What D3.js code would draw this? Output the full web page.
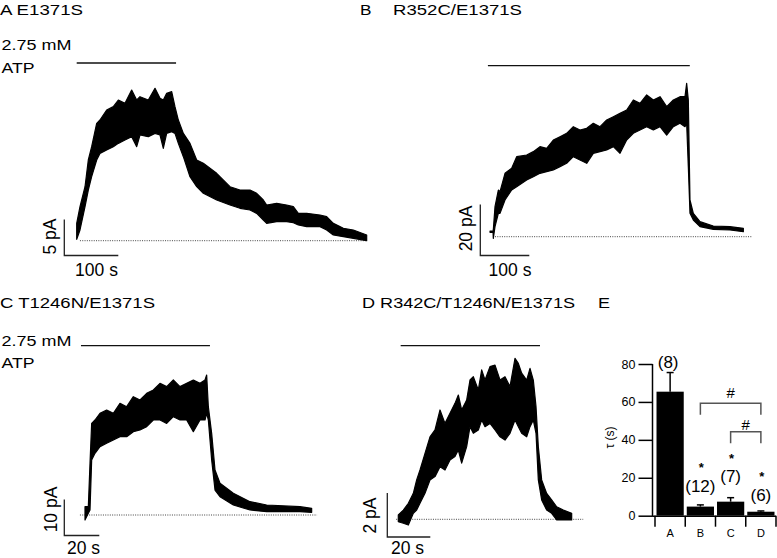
<!DOCTYPE html>
<html>
<head>
<meta charset="utf-8">
<script src="https://cdn.jsdelivr.net/npm/d3@7"></script>
<style>
  html, body { margin: 0; padding: 0; background: #fff; }
  svg { display: block; font-family: "Liberation Sans", Arial, Helvetica, sans-serif; }
</style>
</head>
<body>
<svg id="fig" width="777" height="558"></svg>
<script>
// ---------------- DATA ----------------
// Panel A: E1371S  (time in s, current envelope in pA)
const traceA_t  = [0, 6.1, 15.4, 21.5, 27.7, 37.0, 43.1, 55.5, 67.8, 77.1, 89.4, 101.8, 111.1, 117.2, 132.6, 145.0, 154.3, 160.4, 166.6, 175.9, 182.0, 188.2, 197.5, 209.8, 222.2, 234.5, 259.2, 283.9, 302.4, 320.9, 333.3, 345.6, 351.8, 370.3, 388.8, 401.2, 410.4, 425.9, 450.6, 462.9, 475.2, 493.8, 512.3, 537.0];
const traceA_hi = [2.41, 4.73, 7.50, 11.21, 13.06, 16.30, 16.76, 18.15, 18.62, 19.54, 19.08, 20.93, 19.54, 20.00, 19.54, 21.16, 19.77, 19.54, 20.47, 20.70, 18.62, 16.76, 14.91, 13.52, 11.21, 10.75, 9.36, 7.50, 7.04, 7.04, 6.58, 5.65, 4.96, 5.19, 4.96, 4.73, 3.80, 3.80, 3.57, 3.34, 2.41, 1.72, 1.49, 0.79];
const traceA_lo = [0.19, 1.49, 4.73, 7.04, 8.89, 11.21, 12.13, 12.60, 13.06, 13.52, 13.99, 14.45, 13.06, 14.68, 14.45, 14.91, 14.68, 12.83, 14.91, 15.14, 14.91, 13.52, 11.67, 8.89, 7.50, 6.58, 5.65, 4.96, 4.50, 4.26, 3.80, 2.88, 2.41, 2.64, 2.64, 2.50, 2.18, 1.95, 1.95, 1.49, 0.79, 0.56, 0.33, 0.0];
const atpA = [0, 184];
const baseA = [6, 538];

// Panel B: R352C/E1371S
const traceB_t  = [-6.7, -0.5, 0, 3.5, 10.3, 13.7, 23.9, 37.5, 47.7, 68.1, 81.7, 95.3, 108.9, 122.5, 136.1, 149.7, 163.3, 176.9, 190.6, 204.1, 217.8, 231.4, 245.0, 258.6, 272.2, 285.8, 299.4, 313.0, 326.6, 340.2, 353.8, 367.4, 381.0, 391.2, 394.6, 398.0, 401.4, 408.2, 421.8, 449.0, 483.1, 510.3];
const traceB_hi = [2.2, 2.2, 2.63, 11.78, 18.31, 17.66, 24.85, 26.81, 31.38, 32.04, 33.35, 35.31, 34.65, 37.92, 39.23, 40.54, 43.15, 41.84, 42.50, 44.46, 43.15, 45.76, 47.07, 48.38, 49.69, 53.61, 52.30, 55.57, 53.61, 54.91, 50.99, 53.61, 54.91, 54.91, 60.14, 53.61, 14.39, 9.16, 5.89, 4.20, 3.93, 3.28];
const traceB_lo = [1.7, 1.7, -0.64, 3.93, 9.16, 9.16, 14.39, 18.31, 19.62, 22.24, 23.54, 24.85, 25.50, 26.16, 27.46, 28.77, 31.38, 30.08, 28.77, 32.69, 33.35, 34.00, 35.31, 32.69, 37.92, 40.54, 41.84, 43.15, 41.84, 43.15, 39.88, 43.15, 44.46, 43.15, 44.46, 27.46, 9.16, 6.55, 3.93, 2.89, 2.63, 1.97];
const atpB = [-11, 401];
const baseB = [3.5, 527];

// Panel C: T1246N/E1371S
const traceC_t  = [0, 1.9, 2.86, 3.81, 5.71, 8.57, 12.38, 16.19, 20.0, 23.81, 27.62, 31.43, 35.24, 39.05, 42.86, 46.67, 50.48, 54.29, 58.10, 61.90, 65.71, 68.57, 69.52, 70.48, 72.38, 74.29, 77.14, 84.76, 94.29, 103.81, 122.86, 129.52];
const traceC_hi = [2.31, 2.31, 14.35, 25.46, 26.39, 28.24, 29.17, 28.24, 31.02, 30.09, 32.87, 31.94, 33.80, 34.72, 36.57, 35.65, 37.50, 35.65, 36.57, 37.50, 36.57, 37.50, 38.89, 30.09, 22.69, 12.50, 8.80, 6.02, 3.70, 2.78, 2.31, 1.85];
const traceC_lo = [-1.39, 0.46, 1.39, 15.28, 17.13, 18.98, 19.91, 20.83, 21.76, 21.76, 23.15, 23.61, 24.54, 26.39, 26.39, 25.46, 27.31, 26.39, 26.39, 23.15, 26.39, 26.39, 28.24, 26.39, 15.28, 6.94, 5.09, 2.78, 1.39, 0.93, 0.93, 0.74];
const atpC = [-2.3, 71.4];
const baseC = [-2.9, 132.6];

// Panel D: R342C/T1246N/E1371S
const traceD_t  = [0, 2.34, 4.67, 6.99, 8.54, 10.09, 12.42, 14.74, 17.07, 19.40, 21.72, 24.05, 26.37, 27.92, 29.47, 31.80, 33.35, 34.90, 37.22, 38.78, 40.33, 42.65, 44.98, 47.30, 49.63, 51.95, 54.28, 55.83, 57.38, 59.71, 61.26, 62.80, 64.05, 65.13, 66.68, 69.01, 71.33, 73.66, 76.76, 80.64];
const traceD_hi = [0.20, 0.42, 0.73, 1.18, 1.79, 2.24, 3.00, 3.75, 4.06, 4.97, 4.36, 4.82, 5.27, 5.65, 4.97, 5.42, 6.33, 6.48, 5.88, 6.79, 6.33, 6.94, 7.01, 6.33, 6.48, 6.03, 7.32, 7.09, 6.64, 6.33, 6.86, 6.33, 5.12, 3.30, 1.79, 1.18, 0.88, 0.57, 0.42, 0.27];
const traceD_lo = [-0.11, -0.18, -0.26, 0.27, 0.42, 0.73, 1.18, 1.79, 1.94, 2.39, 2.24, 2.70, 2.85, 3.15, 2.55, 3.30, 4.21, 3.91, 4.06, 4.51, 4.21, 4.36, 4.06, 3.75, 3.60, 3.91, 4.51, 4.21, 3.91, 3.75, 4.21, 4.51, 3.91, 1.79, 0.88, 0.42, 0.27, -0.03, -0.03, -0.03];
const atpD = [1.1, 65.9];
const baseD = [-1, 86];

// Panel E: deactivation time constants
const groups   = ["A", "B", "C", "D"];
const tauMean  = [65.4, 4.8, 7.4, 2.1];
const tauSEM   = [10.1, 0.9, 2.1, 0.4];
const nCells   = ["(8)", "(12)", "(7)", "(6)"];
const starred  = [false, true, true, true];
const yTicks   = [0, 20, 40, 60, 80];
const brackets = [["B", "D"], ["C", "D"]];

// ---------------- DRAWING ----------------
const svg = d3.select("#fig");
const ink = "#000";

function panel(cfg) {
  const g = svg.append("g");
  const x = d3.scaleLinear().domain([0, cfg.sBar]).range([cfg.x0, cfg.x0 + cfg.pxS]);
  const y = d3.scaleLinear().domain([0, cfg.iBar]).range([cfg.y0, cfg.y0 - cfg.pxI]);
  const pts = cfg.t.map((t, i) => ({ t, hi: cfg.hi[i], lo: cfg.lo[i] }));

  // dotted baseline
  g.append("line")
    .attr("x1", x(cfg.base[0])).attr("x2", x(cfg.base[1]))
    .attr("y1", y(0)).attr("y2", y(0))
    .attr("stroke", "#444").attr("stroke-width", 1).attr("stroke-dasharray", "1,1.3");

  // ATP application bar
  g.append("line")
    .attr("x1", x(cfg.atp[0])).attr("x2", x(cfg.atp[1]))
    .attr("y1", cfg.atpY).attr("y2", cfg.atpY)
    .attr("stroke", "#111").attr("stroke-width", 1.3);

  // current trace envelope
  const area = d3.area().x(d => x(d.t)).y0(d => y(d.lo)).y1(d => y(d.hi)).curve(d3.curveLinear);
  g.append("path").datum(pts).attr("d", area)
    .attr("fill", ink).attr("stroke", ink).attr("stroke-width", 1.2).attr("stroke-linejoin", "round");

  // scale bars
  const sbx = cfg.sb[0], sby = cfg.sb[1];
  const hLen = x(cfg.sBar) - x(0), vLen = y(0) - y(cfg.iBar);
  g.append("path")
    .attr("d", `M${sbx},${sby - vLen}V${sby}H${sbx + hLen}`)
    .attr("fill", "none").attr("stroke", "#222").attr("stroke-width", 1.3);
  g.append("text").attr("x", cfg.sLbl[0]).attr("y", cfg.sLbl[1])
    .attr("text-anchor", "middle").attr("font-size", 17.5).text(cfg.sText);
  g.append("text").attr("transform", `translate(${cfg.iLbl[0]},${cfg.iLbl[1]}) rotate(-90)`)
    .attr("text-anchor", "middle").attr("font-size", 17.5).text(cfg.iText);
}

panel({ t: traceA_t, hi: traceA_hi, lo: traceA_lo, atp: atpA, base: baseA,
  x0: 76.7, y0: 240.7, sBar: 100, pxS: 54, iBar: 5, pxI: 36, atpY: 63,
  sb: [64.3, 255.5], sLbl: [96.5, 276], iLbl: [55.5, 236.5], sText: "100 s", iText: "5 pA" });
panel({ t: traceB_t, hi: traceB_hi, lo: traceB_lo, atp: atpB, base: baseB,
  x0: 493.3, y0: 236.7, sBar: 100, pxS: 49, iBar: 20, pxI: 51, atpY: 65.7,
  sb: [480.3, 255.5], sLbl: [510, 276], iLbl: [471.5, 228.5], sText: "100 s", iText: "20 pA" });
panel({ t: traceC_t, hi: traceC_hi, lo: traceC_lo, atp: atpC, base: baseC,
  x0: 85, y0: 515, sBar: 20, pxS: 35, iBar: 10, pxI: 36, atpY: 345.7,
  sb: [64.3, 535.5], sLbl: [83.5, 554], iLbl: [56.5, 509.5], sText: "20 s", iText: "10 pA" });
panel({ t: traceD_t, hi: traceD_hi, lo: traceD_lo, atp: atpD, base: baseD,
  x0: 398.3, y0: 519.3, sBar: 20, pxS: 43, iBar: 2, pxI: 44, atpY: 345.7,
  sb: [387.3, 537], sLbl: [407.5, 554], iLbl: [375.5, 515.5], sText: "20 s", iText: "2 pA" });

// titles
const titles = [
  { x: 0, y: 15, t: "A E1371S", w: 83 },
  { x: 360, y: 15, t: "B", w: 11.5 },
  { x: 393, y: 15, t: "R352C/E1371S", w: 129 },
  { x: 1.5, y: 50, t: "2.75 mM", w: 70 },
  { x: 1.5, y: 73, t: "ATP", w: 33 },
  { x: 0, y: 308, t: "C T1246N/E1371S", w: 155 },
  { x: 1.5, y: 345.5, t: "2.75 mM", w: 70 },
  { x: 1.5, y: 367.5, t: "ATP", w: 33 },
  { x: 362, y: 308, t: "D R342C/T1246N/E1371S", w: 213 },
  { x: 598, y: 308, t: "E", w: 12 }
];
svg.append("g").selectAll("text").data(titles).join("text")
  .attr("x", d => d.x).attr("y", d => d.y)
  .attr("font-size", 15.5)
  .attr("textLength", d => d.w).attr("lengthAdjust", "spacingAndGlyphs")
  .text(d => d.t);

// ---------------- Panel E bar chart ----------------
const gE = svg.append("g");
const yE = d3.scaleLinear().domain([0, 80]).range([515.7, 364]);
const xE = d3.scaleBand().domain(groups).range([655, 776]).paddingInner(0.1).paddingOuter(0.05);
const axisX0 = 652.5;

// bars
gE.selectAll("rect.bar").data(groups).join("rect")
  .attr("x", d => xE(d)).attr("width", xE.bandwidth())
  .attr("y", (d, i) => yE(tauMean[i])).attr("height", (d, i) => yE(0) - yE(tauMean[i]))
  .attr("fill", ink);

// error bars
groups.forEach((d, i) => {
  const cx = xE(d) + xE.bandwidth() / 2;
  gE.append("line").attr("x1", cx).attr("x2", cx)
    .attr("y1", yE(tauMean[i])).attr("y2", yE(tauMean[i] + tauSEM[i]))
    .attr("stroke", ink).attr("stroke-width", 1.5);
  gE.append("line").attr("x1", cx - 3.5).attr("x2", cx + 3.5)
    .attr("y1", yE(tauMean[i] + tauSEM[i])).attr("y2", yE(tauMean[i] + tauSEM[i]))
    .attr("stroke", ink).attr("stroke-width", 1.5);
});

// y axis
const yAxis = d3.axisLeft(yE).tickValues(yTicks).tickSize(14).tickPadding(3).tickFormat(d3.format("d"));
const gy = gE.append("g").attr("transform", `translate(${axisX0},0)`).call(yAxis);
gy.select(".domain").attr("d", `M0,${yE(80)}V${yE(0) + 1}`).attr("stroke-width", 1.5);
gy.selectAll(".tick line").attr("stroke-width", 1.5);
gy.selectAll(".tick text").attr("font-size", 12.5).attr("font-family", "Liberation Sans, Arial, sans-serif").attr("fill", ink);

// x axis: line along bottom, ticks at band boundaries
const step = xE.step();
const x0b = xE.range()[0];
gE.append("line").attr("x1", axisX0).attr("x2", x0b + 4 * step).attr("y1", yE(0) + 0.5).attr("y2", yE(0) + 0.5)
  .attr("stroke", ink).attr("stroke-width", 1.5);
gE.selectAll("line.xt").data(d3.range(5)).join("line")
  .attr("x1", i => x0b + i * step).attr("x2", i => x0b + i * step)
  .attr("y1", yE(0)).attr("y2", yE(0) + 11)
  .attr("stroke", ink).attr("stroke-width", 1.5);
gE.selectAll("text.xl").data(groups).join("text")
  .attr("x", d => xE(d) + xE.bandwidth() / 2).attr("y", 537)
  .attr("text-anchor", "middle").attr("font-size", 11).text(d => d);

// axis title
gE.append("text").attr("transform", `translate(614,437.5) rotate(-90)`)
  .attr("text-anchor", "middle").attr("font-size", 12).text("τ (s)");

// n labels and stars
const nPos = [367.5, 491.5, 482, 500.5];
const starPos = [0, 472, 463, 481];
groups.forEach((d, i) => {
  const cx = xE(d) + xE.bandwidth() / 2;
  gE.append("text").attr("x", cx - (i === 0 ? 2 : 0)).attr("y", nPos[i])
    .attr("text-anchor", "middle").attr("font-size", 17).text(nCells[i]);
  if (starred[i]) {
    gE.append("text").attr("x", cx + 1).attr("y", starPos[i])
      .attr("text-anchor", "middle").attr("font-size", 13).attr("font-weight", "bold").text("*");
  }
});

// significance brackets
const brY = [403.3, 431.7];
const hashY = [398, 430];
brackets.forEach((b, k) => {
  const xa = xE(b[0]) + xE.bandwidth() / 2, xb = xE(b[1]) + xE.bandwidth() / 2;
  gE.append("path").attr("d", `M${xa},${brY[k] + 11.5}V${brY[k]}H${xb}V${brY[k] + 11.5}`)
    .attr("fill", "none").attr("stroke", "#555").attr("stroke-width", 1.5);
  gE.append("text").attr("x", (xa + xb) / 2).attr("y", hashY[k])
    .attr("text-anchor", "middle").attr("font-size", 15).text("#");
});
</script>
</body>
</html>
